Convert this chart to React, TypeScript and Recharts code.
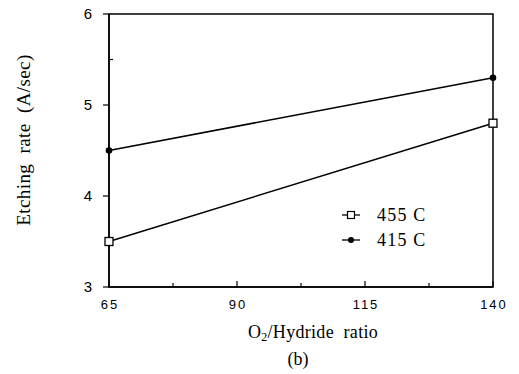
import { LineChart, Line, XAxis, YAxis, ReferenceArea } from "recharts";

const ratios = [65, 140];
const rate455 = [3.5, 4.8];
const rate415 = [4.5, 5.3];
const xTicks = [65, 77.5, 90, 102.5, 115, 127.5, 140];
const xLabels = [65, 90, 115, 140];
const yTicks = [3, 4, 5, 5.5, 6];
const yLabels = [3, 4, 5, 6];
const seriesNames = ["455 C", "415 C"];

const data = ratios.map((r, i) => ({ ratio: r, s455: rate455[i], s415: rate415[i] }));

const serif = "'Liberation Serif', 'DejaVu Serif', serif";
const sans = "'Liberation Sans', Arial, sans-serif";

function XTick(props: any) {
  const { x, y, payload } = props;
  const major = xLabels.includes(payload.value);
  return (
    <g>
      <line x1={x} x2={x} y1={y} y2={y - (major ? 6 : 4)} stroke="#000" strokeWidth={1.2} />
      {major && (
        <text x={x + 1} y={y + 22} textAnchor="middle" fontFamily={sans} fontSize={13} letterSpacing={2} fill="#000">
          {payload.value}
        </text>
      )}
    </g>
  );
}

function YTick(props: any) {
  const { x, y, payload } = props;
  const major = yLabels.includes(payload.value);
  return (
    <g>
      {major ? (
        <line x1={x} x2={x - 6} y1={y} y2={y} stroke="#000" strokeWidth={1.2} />
      ) : (
        <line x1={x} x2={x + 4} y1={y} y2={y} stroke="#000" strokeWidth={1.2} />
      )}
      {major && (
        <text x={x - 21} y={y + 5} textAnchor="middle" fontFamily={sans} fontSize={15} fill="#000">
          {payload.value}
        </text>
      )}
    </g>
  );
}

function SquareDot(props: any) {
  const { cx, cy, index } = props;
  return <rect key={"sq" + index} x={cx - 4} y={cy - 4} width={8} height={8} fill="#fff" stroke="#000" strokeWidth={1.3} />;
}

function CircleDot(props: any) {
  const { cx, cy, index } = props;
  return <circle key={"ci" + index} cx={cx} cy={cy} r={3.3} fill="#000" />;
}

function LegendBox() {
  return (
    <svg width={120} height={60} style={{ position: "absolute", left: 333, top: 203 }}>
      {seriesNames.map((name, i) => {
        const cy = 12 + i * 25;
        return (
          <g key={name}>
            <line x1={9} x2={27} y1={cy} y2={cy} stroke="#000" strokeWidth={1.3} />
            {i === 0 ? (
              <rect x={14.5} y={cy - 3.5} width={7} height={7} fill="#fff" stroke="#000" strokeWidth={1.2} />
            ) : (
              <circle cx={18} cy={cy} r={3} fill="#000" />
            )}
            <text x={44} y={cy + 6} fontFamily={serif} fontSize={18} letterSpacing={1.2} fill="#000">
              {name}
            </text>
          </g>
        );
      })}
    </svg>
  );
}

export default function App() {
  return (
    <div style={{ position: "absolute", left: 0, top: 0, width: 519, height: 374, background: "#fff" }}>
      <LineChart width={519} height={374} data={data} margin={{ top: 14, right: 26, bottom: 57, left: 79 }}>
        <XAxis
          dataKey="ratio"
          type="number"
          domain={[65, 140]}
          ticks={xTicks}
          interval={0}
          tickLine={false}
          tickSize={0}
          tickMargin={0}
          height={30}
          axisLine={{ stroke: "#000", strokeWidth: 1.5 }}
          tick={<XTick />}
        />
        <YAxis
          type="number"
          domain={[3, 6]}
          ticks={yTicks}
          interval={0}
          tickLine={false}
          tickSize={0}
          tickMargin={0}
          width={30}
          axisLine={{ stroke: "#000", strokeWidth: 1.5 }}
          tick={<YTick />}
        />
        <ReferenceArea x1={65} x2={140} y1={3} y2={6} fill="none" stroke="#000" strokeWidth={1.5} ifOverflow="visible" />
        <Line dataKey="s455" name={seriesNames[0]} stroke="#000" strokeWidth={1.5} dot={SquareDot} isAnimationActive={false} />
        <Line dataKey="s415" name={seriesNames[1]} stroke="#000" strokeWidth={1.5} dot={CircleDot} isAnimationActive={false} />
      </LineChart>
      <LegendBox />
      <div
        style={{
          position: "absolute",
          left: 24,
          top: 140,
          transform: "translate(-50%, -50%) rotate(-90deg)",
          whiteSpace: "pre",
          fontFamily: serif,
          fontSize: 19,
          letterSpacing: 0.4,
        }}
      >
        {"Etching  rate  (A/sec)"}
      </div>
      <div
        style={{
          position: "absolute",
          left: 313,
          top: 332,
          transform: "translate(-50%, -50%)",
          whiteSpace: "pre",
          fontFamily: serif,
          fontSize: 18,
          letterSpacing: 0.3,
        }}
      >
        O<sub style={{ fontSize: 12, verticalAlign: "-3px", lineHeight: 0 }}>2</sub>/Hydride  ratio
      </div>
      <div
        style={{
          position: "absolute",
          left: 298,
          top: 359,
          transform: "translate(-50%, -50%)",
          fontFamily: serif,
          fontSize: 18,
        }}
      >
        (b)
      </div>
    </div>
  );
}
